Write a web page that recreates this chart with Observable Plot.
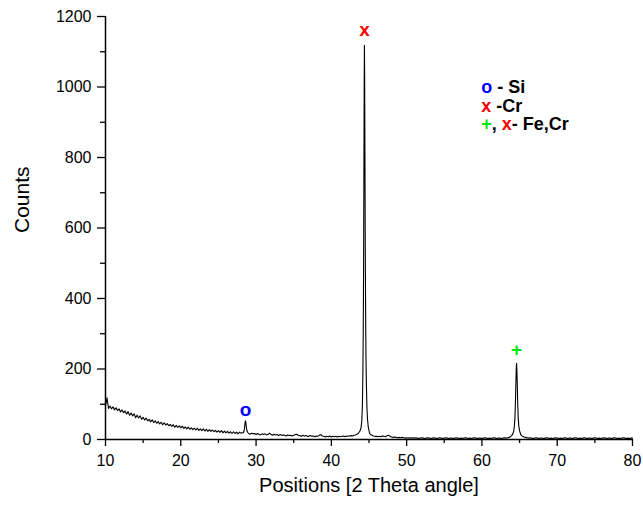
<!DOCTYPE html>
<html><head><meta charset="utf-8">
<script src="https://cdn.jsdelivr.net/npm/d3@7"></script>
<script src="https://cdn.jsdelivr.net/npm/@observablehq/plot@0.6"></script>
<style>body{margin:0;background:#fff;}</style>
</head><body><div id="chart"></div>
<script>
// ---- scan segments on a regular 0.2° grid ----
const seg1Start = 10.0;
const seg1Counts = [96,118,88,95,87,93,84,90,82,87,78,84,76,81,72,79,69,75,67,73,62,69,61,67,57,63,55,61,53,57,50,56,48,53,46,51,44,49,42,47,41,45,39,43,37,42,35,40,34,39,33,38,31,36,30,35,29,33,28,32,27,32,26,30,25,30,24,29,23,28,23,27,22,26,21,25,20,25,19,24,19,23,18,22,17,22,17,21,16,21,18,19];
const seg2Start = 29.0;
const seg2Counts = [17,15,18,16,17,14,17,15,13,16,14,16,13,15,18,14,12,15,13,14,11,14,12,13,12,10,13,11,12,10,12,14,15,12,11,9,12,10,11,9,9,11,9,10,8,10,9,12,14,10,9,7,9,8,10,7,9,8,9,7,9,8,9,10,8,10,9,10,11,10,12,13,15];
const seg3Start = 45.2;
const seg3Counts = [14,12,10,9,9,8,9,8,10,9,8,11,12,9,7,6,7,6,5,6,5,6,5,4,5,4,5,4,5,4,5,4,3,4,5,4,3,4,5,4,3,4,5,4,3,4,5,4,3,4,5,4,3,4,4,3,4,5,4,3,4,3,4,5,4,3,4,3,4,5,4,3,4,4,3,4,5,4,3,4,3,4,5,4,3,4,4,3,4,5,4,5,6,8];
const seg4Start = 65.4;
const seg4Counts = [9,7,6,5,4,5,4,3,4,5,4,3,4,4,3,4,5,4,3,4,3,4,5,4,3,4,3,4,5,4,3,4,4,3,4,5,4,3,4,3,4,5,4,3,4,4,3,4,5,4,3,4,3,4,5,4,3,4,4,3,4,5,4,3,4,3,4,5,4,3,4,3,4,4];
const scanStep = 0.2;

// ---- peaks (finer sampling) ----
const siAngles = [28.3,28.4,28.45,28.5,28.55,28.6,28.65,28.7,28.75,28.8,28.9];
const siCounts = [19,24,30,40,49,53,47,37,29,24,20];
const crAngles = [43.6,43.8,43.95,44.05,44.12,44.18,44.23,44.28,44.32,44.36,44.39,44.42,44.46,44.5,44.55,44.6,44.66,44.73,44.8,44.9,45.0,45.1];
const crCounts = [18,24,34,55,95,175,290,480,730,990,1118,1040,810,570,360,230,150,90,58,36,25,17];
const fecrAngles = [63.95,64.1,64.2,64.3,64.38,64.45,64.51,64.56,64.6,64.64,64.69,64.75,64.82,64.9,65.0,65.12,65.25];
const fecrCounts = [11,16,22,36,60,105,160,200,216,200,160,105,62,38,25,16,11];

// ---- annotations ----
const peakAngles = [28.6, 44.39, 64.6];
const peakLabelCounts = [85, 1163, 255];
const peakSymbols = ["o", "x", "+"];
const peakColors = ["#0000ff", "#ff0000", "#00e600"];

const legendPieces = [["o", " - Si"], ["x", " -Cr"], ["+", ", ", "x", "- Fe,Cr"]];
const legendPieceColors = [["#0000ff", "#000"], ["#ff0000", "#000"], ["#00e600", "#000", "#ff0000", "#000"]];
const legendAngle = 59.9;
const legendCounts = [998, 946, 893];

const xMajor = [10, 20, 30, 40, 50, 60, 70, 80];
const xMinor = [15, 25, 35, 45, 55, 65, 75];
const yMajor = [0, 200, 400, 600, 800, 1000, 1200];
const yMinor = [100, 300, 500, 700, 900, 1100];
const xTitle = "Positions [2 Theta angle]";
const yTitle = "Counts";

// ---- build table ----
function grid(start, counts) {
  return counts.map((c, i) => ({angle: +(start + i * scanStep).toFixed(2), count: c}));
}
function pairs(a, c) { return a.map((x, i) => ({angle: x, count: c[i]})); }
const scan = [
  ...grid(seg1Start, seg1Counts),
  ...pairs(siAngles, siCounts),
  ...grid(seg2Start, seg2Counts),
  ...pairs(crAngles, crCounts),
  ...grid(seg3Start, seg3Counts),
  ...pairs(fecrAngles, fecrCounts),
  ...grid(seg4Start, seg4Counts)
].sort((a, b) => a.angle - b.angle);

const FONT = "'Liberation Sans', Arial, Helvetica, sans-serif";
const legendFontSize = 18;
const ctx = document.createElement("canvas").getContext("2d");
ctx.font = `bold ${legendFontSize}px ${FONT}`;
const legendData = [];
legendPieces.forEach((row, r) => {
  let off = 0;
  row.forEach((t, k) => {
    legendData.push({text: t, color: legendPieceColors[r][k], angle: legendAngle, count: legendCounts[r], dx: off});
    off += ctx.measureText(t).width;
  });
});
const peaks = peakAngles.map((a, i) => ({angle: a, count: peakLabelCounts[i], s: peakSymbols[i], c: peakColors[i]}));

const chart = Plot.plot({
  width: 643,
  height: 508,
  marginTop: 16,
  marginBottom: 69,
  marginLeft: 105,
  marginRight: 11,
  style: {fontFamily: FONT, fontSize: "16px", color: "#000", background: "#fff"},
  x: {domain: [10, 80]},
  y: {domain: [0, 1200]},
  marks: [
    Plot.line(scan, {x: "angle", y: "count", stroke: "#000", strokeWidth: 1.1}),
    Plot.ruleX([10], {stroke: "#000", strokeWidth: 1.5}),
    Plot.ruleY([0], {stroke: "#000", strokeWidth: 1.5}),
    Plot.axisX({ticks: xMajor, tickSize: 7, tickPadding: 8, strokeWidth: 1.3, label: null, fontSize: 16}),
    Plot.axisX({ticks: xMinor, tickSize: 4, strokeWidth: 1.3, tickFormat: () => "", label: null}),
    Plot.axisY({ticks: yMajor, tickSize: 8, tickPadding: 6, strokeWidth: 1.3, label: null, fontSize: 16, tickFormat: d => String(d)}),
    Plot.axisY({ticks: yMinor, tickSize: 5, strokeWidth: 1.3, tickFormat: () => "", label: null}),
    Plot.text([xTitle], {frameAnchor: "bottom", dy: 52, fontSize: 20, fill: "#000"}),
    Plot.text([yTitle], {frameAnchor: "left", dx: -83, dy: 5, rotate: -90, fontSize: 21, fill: "#000"}),
    Plot.text(peaks, {x: "angle", y: "count", text: "s", fill: "c", fontWeight: "bold", fontSize: 19}),
    ...legendData.map(d => Plot.text([d], {x: "angle", y: "count", text: "text", fill: "color", dx: d.dx, textAnchor: "start", fontWeight: "bold", fontSize: legendFontSize}))
  ]
});
document.getElementById("chart").appendChild(chart);
</script>
</body></html>
